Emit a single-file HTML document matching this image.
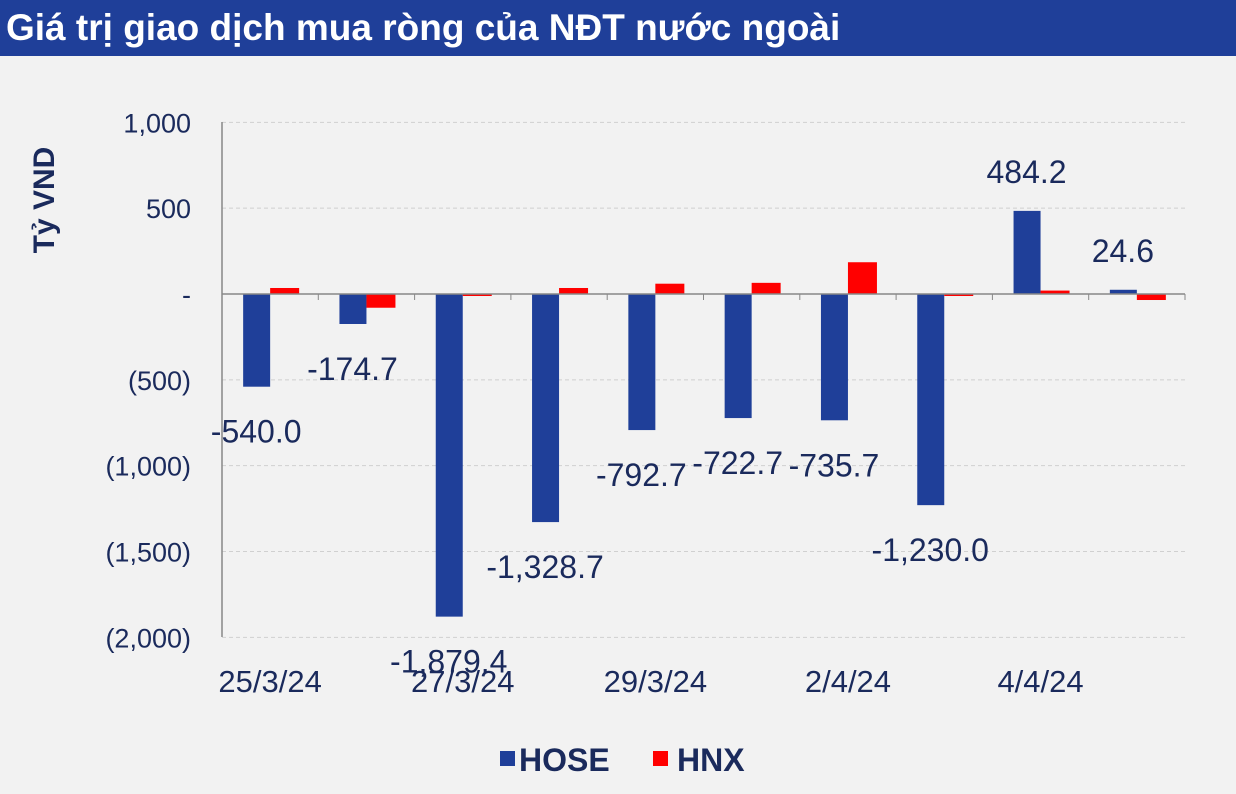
<!DOCTYPE html>
<html><head><meta charset="utf-8"><style>
body{margin:0;width:1236px;height:794px;background:#f2f2f2;overflow:hidden;font-family:"Liberation Sans",sans-serif}
#title{position:absolute;left:0;top:0;width:1236px;height:56px;background:#1f3f99;color:#fff;font-weight:bold;font-size:37px;line-height:56px;padding-left:6px;box-sizing:border-box;white-space:nowrap}
svg{position:absolute;left:0;top:0}
</style></head><body>
<div id="title">Giá trị giao dịch mua ròng của NĐT nước ngoài</div>
<svg id="chart" width="1236" height="794"></svg>
<script>
const categories=["25/3/24","26/3/24","27/3/24","28/3/24","29/3/24","1/4/24","2/4/24","3/4/24","4/4/24","5/4/24"];
const hose=[-540.0,-174.7,-1879.4,-1328.7,-792.7,-722.7,-735.7,-1230.0,484.2,24.6];
const hnx=[35,-80,-5,35,60,65,185,-5,20,-35];
const yTicks=[1000,500,0,-500,-1000,-1500,-2000];
const yTickLabels=["1,000","500","-","(500)","(1,000)","(1,500)","(2,000)"];
const svg=document.getElementById('chart');
const NS='http://www.w3.org/2000/svg';
const x0=222,x1=1185,yTop=122,yBot=637;
const y=v=>294-v*(yBot-yTop)/3000;
const bw=(x1-x0)/categories.length;
const cx=i=>x0+bw*(i+0.5);
function mk(t,a,txt){const e=document.createElementNS(NS,t);for(const k in a)e.setAttribute(k,a[k]);if(txt!==undefined)e.textContent=txt;svg.appendChild(e);return e;}
yTicks.forEach((t,i)=>{
 if(t!==0){const g=mk('line',{x1:x0,x2:x1,y1:y(t),y2:y(t),stroke:'#d0d0d0','stroke-dasharray':'4,3'});
 
 }
 const l=mk('text',{x:191,y:y(t)+10,'text-anchor':'end','font-size':27,fill:'#1a2a5c'},yTickLabels[i]);
 
 
});
const ya=mk('line',{x1:x0,x2:x0,y1:yTop,y2:yBot,stroke:'#888','stroke-width':1.5});


const yt=mk('text',{x:54,y:200,'text-anchor':'middle','font-size':30,'font-weight':'bold',fill:'#1a2a5c',transform:'rotate(-90 54 200)'},'Tỷ VND');


categories.forEach((c,i)=>{
 const b=mk('rect',{x:cx(i)-27,width:27,y:Math.min(y(0),y(hose[i])),height:Math.abs(y(hose[i])-y(0)),fill:'#1f3f99'});
 
 
 const r=mk('rect',{x:cx(i),width:29,y:Math.min(y(0),y(hnx[i])),height:Math.max(2,Math.abs(y(hnx[i])-y(0))),fill:'#ff0000'});
 
 
 const v=hose[i];
 const ly=v<0?y(v)+56:y(v)-28;
 const lab=mk('text',{x:cx(i)-14,y:ly,'text-anchor':'middle','font-size':32,fill:'#1a2a5c'},v.toLocaleString('en-US',{minimumFractionDigits:1,maximumFractionDigits:1}));
 
 
 if(i%2===0){const xl=mk('text',{x:cx(i),y:692,'text-anchor':'middle','font-size':31,fill:'#1a2a5c'},c);
 
 }
});
const xa=mk('line',{x1:x0,x2:x1,y1:y(0),y2:y(0),stroke:'#888','stroke-width':1.5});


for(let i=0;i<=categories.length;i++){const tk=mk('line',{x1:x0+bw*i,x2:x0+bw*i,y1:y(0),y2:y(0)+6,stroke:'#888'});

}
const l1=mk('rect',{x:500,y:751,width:15,height:15,fill:'#1f3f99'});


const t1=mk('text',{x:519,y:771,'font-size':32,'font-weight':'bold',fill:'#1a2a5c'},'HOSE');


const l2=mk('rect',{x:653,y:751,width:15,height:15,fill:'#ff0000'});


const t2=mk('text',{x:677,y:771,'font-size':32,'font-weight':'bold',fill:'#1a2a5c'},'HNX');


</script>
</body></html>
